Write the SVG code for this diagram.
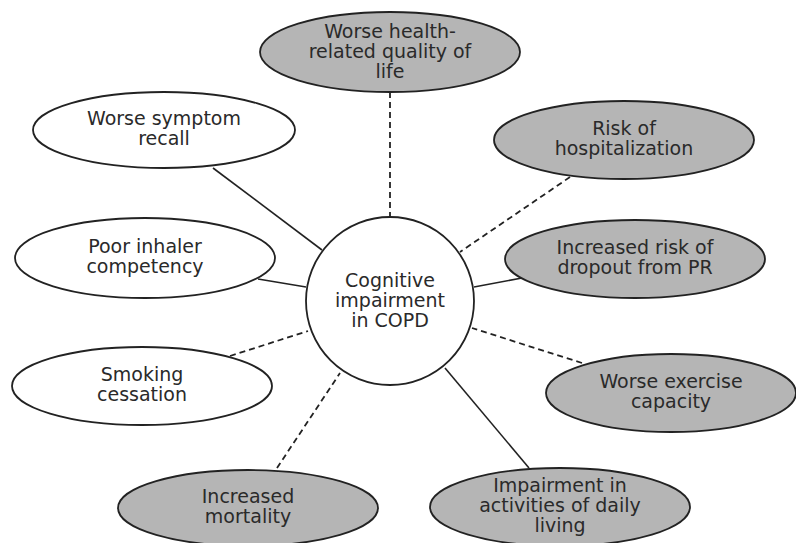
<svg xmlns="http://www.w3.org/2000/svg" width="796" height="543" viewBox="0 0 796 543">
<style>
.n ellipse, .n circle { stroke:#222; stroke-width:1.8; }
.w { fill:#fff; }
.g { fill:#b5b5b5; }
text { font-family:"DejaVu Sans", "Liberation Sans", sans-serif; font-size:19px; fill:#2a2a2a; text-anchor:middle; }
.solid { stroke:#222; stroke-width:1.6; fill:none; }
.dash { stroke:#222; stroke-width:1.8; fill:none; stroke-dasharray:6 4; }
</style>
<rect width="796" height="543" fill="#fff"/>
<g id="connectors">
<line class="dash" x1="390" y1="92" x2="390" y2="217"/>
<line class="dash" x1="570" y1="177" x2="460" y2="252"/>
<line class="solid" x1="522" y1="278" x2="474" y2="287"/>
<line class="dash" x1="582" y1="363" x2="472" y2="328"/>
<line class="solid" x1="529" y1="468" x2="445" y2="368"/>
<line class="dash" x1="277" y1="468" x2="340" y2="373"/>
<line class="dash" x1="230" y1="356" x2="308" y2="331"/>
<line class="solid" x1="258" y1="279" x2="306" y2="287"/>
<line class="solid" x1="213" y1="168" x2="322" y2="250"/>
</g>
<g id="center" class="n">
<circle class="w" cx="390" cy="301" r="84"/>
<text x="390" y="287">Cognitive</text>
<text x="390" y="307">impairment</text>
<text x="390" y="327">in COPD</text>
</g>
<g id="hrqol" class="n">
<ellipse class="g" cx="390" cy="52" rx="130" ry="40"/>
<text x="390" y="38">Worse health-</text>
<text x="390" y="58">related quality of</text>
<text x="390" y="78">life</text>
</g>
<g id="hospitalization" class="n">
<ellipse class="g" cx="624" cy="140" rx="130" ry="39"/>
<text x="624" y="135">Risk of</text>
<text x="624" y="155">hospitalization</text>
</g>
<g id="dropout" class="n">
<ellipse class="g" cx="635" cy="259" rx="130" ry="39"/>
<text x="635" y="254">Increased risk of</text>
<text x="635" y="274">dropout from PR</text>
</g>
<g id="exercise" class="n">
<ellipse class="g" cx="671" cy="393" rx="125" ry="39"/>
<text x="671" y="388">Worse exercise</text>
<text x="671" y="408">capacity</text>
</g>
<g id="adl" class="n">
<ellipse class="g" cx="560" cy="507" rx="130" ry="39"/>
<text x="560" y="492">Impairment in</text>
<text x="560" y="512">activities of daily</text>
<text x="560" y="532">living</text>
</g>
<g id="mortality" class="n">
<ellipse class="g" cx="248" cy="508" rx="130" ry="38"/>
<text x="248" y="503">Increased</text>
<text x="248" y="523">mortality</text>
</g>
<g id="smoking" class="n">
<ellipse class="w" cx="142" cy="386" rx="130" ry="39"/>
<text x="142" y="381">Smoking</text>
<text x="142" y="401">cessation</text>
</g>
<g id="inhaler" class="n">
<ellipse class="w" cx="145" cy="258" rx="130" ry="40"/>
<text x="145" y="253">Poor inhaler</text>
<text x="145" y="273">competency</text>
</g>
<g id="recall" class="n">
<ellipse class="w" cx="164" cy="130" rx="131" ry="38"/>
<text x="164" y="125">Worse symptom</text>
<text x="164" y="145">recall</text>
</g>
</svg>
